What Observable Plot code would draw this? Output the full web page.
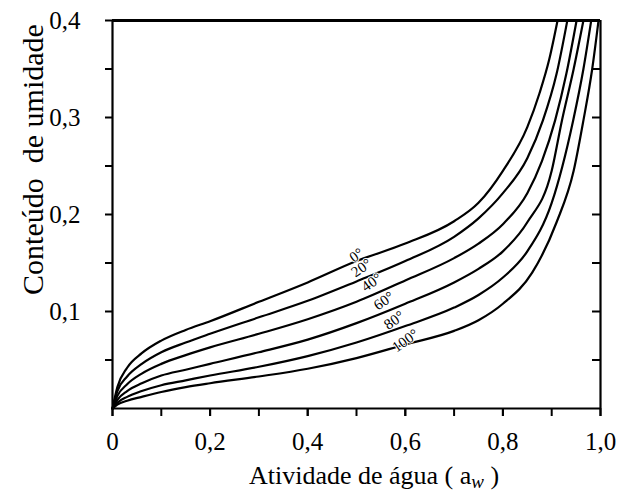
<!DOCTYPE html>
<html><head><meta charset="utf-8">
<script src="https://cdn.jsdelivr.net/npm/d3@7"></script>
<script src="https://cdn.jsdelivr.net/npm/@observablehq/plot@0.6"></script>
<style>
body{margin:0;background:#fff}
svg{display:block}
</style>
</head><body><div id="chart"></div><script>
// Temperatures (°C) of each isotherm
const temps = ["0°", "20°", "40°", "60°", "80°", "100°"];

// Water activity (x) and moisture content (y), per isotherm
const aw0   = [0, 0.01, 0.03, 0.06, 0.1, 0.15, 0.2, 0.3, 0.4, 0.5, 0.6, 0.7, 0.75, 0.8, 0.85, 0.875, 0.895, 0.912];
const m0    = [0, 0.022, 0.042, 0.057, 0.070, 0.081, 0.090, 0.110, 0.130, 0.152, 0.170, 0.193, 0.212, 0.245, 0.29, 0.325, 0.36, 0.4];
const aw20  = [0, 0.01, 0.03, 0.06, 0.1, 0.15, 0.2, 0.3, 0.4, 0.5, 0.6, 0.7, 0.75, 0.8, 0.85, 0.882, 0.91, 0.932];
const m20   = [0, 0.018, 0.033, 0.046, 0.058, 0.068, 0.077, 0.094, 0.111, 0.131, 0.152, 0.177, 0.196, 0.222, 0.258, 0.297, 0.345, 0.4];
const aw40  = [0, 0.01, 0.03, 0.06, 0.1, 0.15, 0.2, 0.3, 0.4, 0.5, 0.6, 0.7, 0.75, 0.8, 0.85, 0.88, 0.907, 0.93, 0.951];
const m40   = [0, 0.013, 0.025, 0.036, 0.046, 0.055, 0.063, 0.077, 0.092, 0.110, 0.132, 0.155, 0.170, 0.19, 0.222, 0.255, 0.297, 0.345, 0.4];
const aw60  = [0, 0.01, 0.03, 0.06, 0.1, 0.15, 0.2, 0.3, 0.4, 0.5, 0.6, 0.7, 0.75, 0.8, 0.85, 0.9, 0.921, 0.945, 0.965];
const m60   = [0, 0.009, 0.018, 0.026, 0.034, 0.040, 0.046, 0.058, 0.071, 0.088, 0.108, 0.130, 0.144, 0.162, 0.192, 0.245, 0.297, 0.35, 0.4];
const aw80  = [0, 0.01, 0.03, 0.06, 0.1, 0.15, 0.2, 0.3, 0.4, 0.5, 0.6, 0.7, 0.75, 0.8, 0.85, 0.9, 0.944, 0.965, 0.981];
const m80   = [0, 0.006, 0.012, 0.018, 0.024, 0.029, 0.034, 0.043, 0.054, 0.068, 0.085, 0.104, 0.117, 0.135, 0.162, 0.212, 0.297, 0.35, 0.4];
const aw100 = [0, 0.01, 0.03, 0.06, 0.1, 0.15, 0.2, 0.3, 0.4, 0.5, 0.6, 0.7, 0.75, 0.8, 0.86, 0.91, 0.945, 0.965, 0.983, 0.996];
const m100  = [0, 0.004, 0.008, 0.012, 0.017, 0.022, 0.026, 0.033, 0.041, 0.052, 0.066, 0.080, 0.091, 0.108, 0.140, 0.192, 0.245, 0.297, 0.35, 0.4];

// Curve label anchor positions (data units)
const labelAw = [0.500, 0.510, 0.531, 0.556, 0.577, 0.600];
const labelM  = [0.158, 0.145, 0.130, 0.111, 0.091, 0.070];

// Axis ticks and labels
const xMinorTicks = [0, 0.1, 0.2, 0.3, 0.4, 0.5, 0.6, 0.7, 0.8, 0.9, 1.0];
const xMajorTicks = [0, 0.2, 0.4, 0.6, 0.8, 1.0];
const xTickLabels = ["0", "0,2", "0,4", "0,6", "0,8", "1,0"];
const yMinorTicks = [0.05, 0.15, 0.25, 0.35];
const yMajorTicks = [0.1, 0.2, 0.3, 0.4];
const yTickLabels = ["0,1", "0,2", "0,3", "0,4"];
const yRightTicks = [0.05, 0.1, 0.15, 0.2, 0.25, 0.3, 0.35];
const xTitle = "Atividade de água (";
const xTitleSub = "w";
const yTitle = "Conteúdo\u00a0 de umidade";

const series = [[aw0, m0], [aw20, m20], [aw40, m40], [aw60, m60], [aw80, m80], [aw100, m100]];
const rows = series.flatMap(([xs, ys], k) => xs.map((x, i) => ({aw: x, m: ys[i], t: temps[k]})));
const labels = temps.map((t, i) => ({aw: labelAw[i], m: labelM[i], t}));
const xLab = new Map(xMajorTicks.map((v, i) => [v, xTickLabels[i]]));
const yLab = new Map(yMajorTicks.map((v, i) => [v, yTickLabels[i]]));

const SERIF = "Liberation Serif, Times New Roman, serif";
const chart = Plot.plot({
  width: 624, height: 494,
  marginLeft: 112, marginRight: 24, marginTop: 20, marginBottom: 86,
  style: {background: "white", color: "black"},
  x: {domain: [0, 1], label: null},
  y: {domain: [0, 0.4], label: null},
  marks: [
    Plot.axisX({ticks: xMinorTicks, tickSize: 8, tickFormat: () => "", strokeWidth: 2, label: null}),
    Plot.axisX({ticks: xMajorTicks, tickSize: 8, tickPadding: 16, tickFormat: d => xLab.get(d), strokeWidth: 2, label: null, fontSize: 25}),
    Plot.axisY({ticks: yMinorTicks, tickSize: 7, tickFormat: () => "", strokeWidth: 2, label: null}),
    Plot.axisY({ticks: yMajorTicks, tickSize: 7, tickPadding: 25, tickFormat: d => yLab.get(d), strokeWidth: 2, label: null, fontSize: 25}),
    Plot.axisY({anchor: "right", ticks: yRightTicks, tickSize: -9, tickFormat: () => "", strokeWidth: 2, label: null}),
    Plot.ruleX([0], {strokeWidth: 2.2}),
    Plot.ruleX([1], {strokeWidth: 2.2}),
    Plot.ruleY([0], {strokeWidth: 2}),
    Plot.ruleY([0.4], {strokeWidth: 3}),
    Plot.line(rows, {x: "aw", y: "m", z: "t", stroke: "black", strokeWidth: 2.2, curve: "monotone-x"}),
    Plot.text(labels, {x: "aw", y: "m", text: "t", rotate: -35, fontSize: 15, fill: "black",
      stroke: "white", strokeWidth: 2, paintOrder: "stroke"}),
    Plot.text([yTitle], {frameAnchor: "top-left", dx: -91, dy: 139, rotate: -90, fontSize: 30, textAnchor: "middle"})
  ]
});
document.getElementById("chart").appendChild(chart);

// serif font on every text element; tick labels at 25px
const svg = d3.select(chart);
svg.attr("font-family", SERIF);
svg.selectAll("g, text").each(function() {
  this.setAttribute("font-family", SERIF);
  this.style.setProperty("font-family", SERIF, "important");
});
svg.selectAll('g[aria-label="x-axis tick label"], g[aria-label="y-axis tick label"]').each(function() {
  this.setAttribute("font-size", 25);
  this.style.setProperty("font-size", "25px", "important");
  d3.select(this).selectAll("text").style("font-size", "25px");
});

// x-axis title with subscript
const xs = chart.scale("x");
const t = svg.append("text")
  .attr("x", xs.apply(0.537)).attr("y", 484)
  .attr("text-anchor", "middle")
  .style("font-family", SERIF).style("font-size", "26px").attr("fill", "black");
t.append("tspan").text(xTitle + "\u00a0a");
t.append("tspan").attr("dy", 4).style("font-size", "19px").style("font-style", "italic").text(xTitleSub);
t.append("tspan").attr("dy", -4).text("\u00a0)");
</script></body></html>
